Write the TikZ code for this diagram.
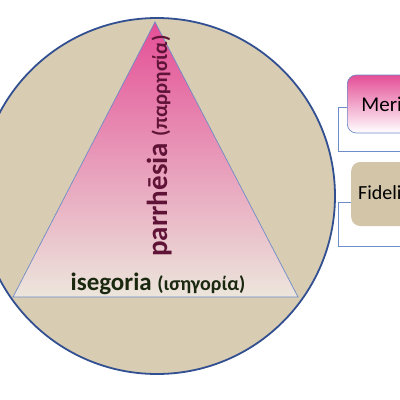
\documentclass[tikz,border=0pt]{standalone}
\usepackage{fontspec}
\setmainfont{Carlito}
\usetikzlibrary{positioning}

\definecolor{linen}{RGB}{216,204,178}
\definecolor{linendark}{RGB}{210,197,168}
\definecolor{rimblue}{RGB}{50,80,145}
\definecolor{edgeblue}{RGB}{110,140,200}
\definecolor{rosetop}{RGB}{228,78,150}
\definecolor{rosemid}{RGB}{238,204,216}
\definecolor{rosebot}{RGB}{236,230,220}
\definecolor{wine}{RGB}{95,20,55}
\definecolor{moss}{RGB}{25,40,15}

\begin{document}
\begin{tikzpicture}[
			x=1pt, y=-1pt,
			disc/.style={
				circle,
				draw=rimblue,
				line width=1.8pt,
				fill=linen,
				minimum size=356pt,
				inner sep=0pt
			},
			meritbox/.style={
				rectangle,
				rounded corners=9pt,
				draw=edgeblue,
				line width=0.7pt,
				top color=rosetop,
				bottom color=white,
				minimum height=58pt,
				text width=80pt,
				inner xsep=14pt,
				align=left,
				font=\fontsize{21}{23}\selectfont
			},
			fidelbox/.style={
				rectangle,
				rounded corners=9pt,
				fill=linendark,
				minimum height=64pt,
				text width=80pt,
				inner xsep=7pt,
				align=left,
				font=\fontsize{20}{22}\selectfont
			},
			bracket/.style={
				draw=edgeblue,
				line width=0.7pt
			}
			]
			\useasboundingbox (0,0) rectangle (400,400);
			\clip (0,0) rectangle (400,400);
			\node[disc] (ring) at (157,196) {};
			% pyramid
			\coordinate (apex) at (155,22);
			\coordinate (baseL) at (13,297);
			\coordinate (baseR) at (298,297);
			\shade[top color=rosetop, middle color=rosemid, bottom color=rosebot, draw=edgeblue, line width=0.7pt]
			(apex) -- (baseR) -- (baseL) -- cycle;
			\node[font=\bfseries, text=moss, anchor=base] (isegoria) at (158,290)
			{\fontsize{25}{28}\selectfont isegoria \fontsize{20}{22}\selectfont(ισηγορία)};
			\node[font=\bfseries, text=wine, rotate=90, anchor=base] (parrhesia) at (167,146)
			{\fontsize{29}{32}\selectfont parrhēsia \fontsize{21}{24}\selectfont(παρρησία)};
			% side boxes
			\node[meritbox, anchor=west] (merit) at (347,104) {Merit};
			\node[fidelbox, anchor=west] (fidel) at (351,194) {Fidelity};
			\coordinate (mturn) at (338,107);
			\coordinate (mend) at (420,151);
			\coordinate (fturn) at (338,202);
			\coordinate (fend) at (420,246);
			\draw[bracket] (merit.west |- mturn) -- (mturn) |- (mend);
			\draw[bracket] (fidel.west |- fturn) -- (fturn) |- (fend);
		\end{tikzpicture}
\end{document}
